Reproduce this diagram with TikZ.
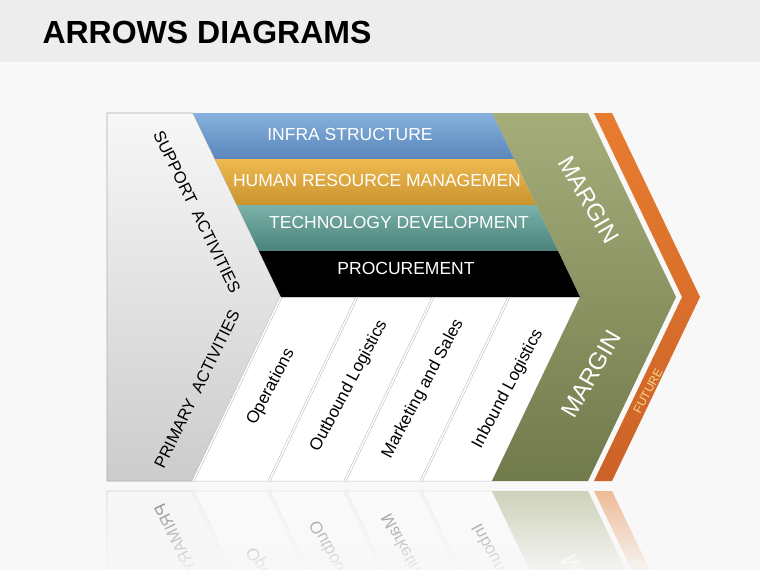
\documentclass[tikz,border=0pt]{standalone}
\usepackage{fontspec}
\setmainfont{Liberation Sans}
\usepackage{tikz}
\usetikzlibrary{fadings}
\definecolor{headgray}{HTML}{EDEDED}
\definecolor{bggray}{HTML}{F8F8F8}
\definecolor{infratop}{HTML}{86B1DC}
\definecolor{infrabot}{HTML}{5A86BB}
\definecolor{hrtop}{HTML}{F0BA52}
\definecolor{hrbot}{HTML}{C8922E}
\definecolor{techtop}{HTML}{7AB2A9}
\definecolor{techbot}{HTML}{4A817C}
\definecolor{olivetop}{HTML}{A6AD7B}
\definecolor{olivebot}{HTML}{717A4B}
\definecolor{orangetop}{HTML}{E87D30}
\definecolor{orangebot}{HTML}{CC6227}
\definecolor{futuretext}{HTML}{F7D690}

\tikzset{
  bandtext/.style={text=white, font=\fontsize{17.5}{20}\selectfont},
  sidetext/.style={text=black, font=\fontsize{16.5}{20}\selectfont},
  coltext/.style={text=black, font=\fontsize{17}{20}\selectfont, rotate=62},
  margintext/.style={text=white, font=\fontsize{24}{28}\selectfont},
  sepline/.style={draw=gray!55, double=white, double distance=1.6pt, line width=0.5pt},
}

% lower half (primary activities), drawn once and once more as its reflection
\newcommand{\primarypart}{%
  % Support / primary panel
  \shade[top color=gray!6, bottom color=gray!40, draw=gray!65, line width=0.8pt]
    (107,113) -- (193,113) -- (281,297) -- (193,481) -- (107,481) -- cycle;
  % Primary columns
  \fill[white, draw=gray!45, line width=0.5pt] (281,297) -- (580,297) -- (492,481) -- (193,481) -- cycle;
  \foreach \x in {281,357,433,509} \draw[sepline] (\x,297) -- ({\x-88},481);
  % Margin chevron
  \shade[top color=olivetop, bottom color=olivebot]
    (492,113) -- (588,113) -- (676,297) -- (588,481) -- (492,481) -- (580,297) -- cycle;
  % Future chevron
  \shade[top color=orangetop, bottom color=orangebot]
    (594,113) -- (612,113) -- (700,297) -- (612,481) -- (594,481) -- (682,297) -- cycle;
  \node[sidetext, rotate=64] (primary) at (197,389) {PRIMARY~~ACTIVITIES};
  \node[coltext] (oper) at (271,387) {Operations};
  \node[coltext] (outb) at (349,386) {Outbound Logistics};
  \node[coltext] (mark) at (423,389) {Marketing and Sales};
  \node[coltext] (inb) at (508,389) {Inbound Logistics};
  \node[margintext, rotate=60] (margbot) at (591,374) {MARGIN};
  \node[text=futuretext, font=\fontsize{12}{14}\selectfont, rotate=62] (future) at (648,391) {FUTURE};
}

\begin{document}
\begin{tikzpicture}[x=1pt, y=-1pt]
\useasboundingbox (0,0) rectangle (760,570);
% Background and title
\fill[bggray] (0,0) rectangle (760,570);
\fill[headgray] (0,0) rectangle (760,62);
\node[anchor=base west, font=\fontsize{32}{36}\selectfont\bfseries] (title) at (39,43) {ARROWS DIAGRAMS};

\primarypart

% Support bands
\shade[top color=infratop, bottom color=infrabot] (193,113) -- (492,113) -- (514,159) -- (215,159) -- cycle;
\shade[top color=hrtop, bottom color=hrbot] (215,159) -- (514,159) -- (536,205) -- (237,205) -- cycle;
\shade[top color=techtop, bottom color=techbot] (237,205) -- (536,205) -- (558,251) -- (259,251) -- cycle;
\fill[black] (259,251) -- (558,251) -- (580,297) -- (281,297) -- cycle;
\node[bandtext] (infra) at (350,134) {INFRA STRUCTURE};
\node[bandtext] (hrm) at (377,180) {HUMAN RESOURCE MANAGEMEN};
\node[bandtext] (tech) at (399,222) {TECHNOLOGY DEVELOPMENT};
\node[bandtext] (proc) at (406,268) {PROCUREMENT};
\node[sidetext, rotate=-64] (support) at (197,212) {SUPPORT~~ACTIVITIES};
\node[margintext, rotate=-60] (margtop) at (589,200) {MARGIN};

% Reflection
\begin{scope}
  \clip (100,489) rectangle (710,570);
  \begin{scope}[transparency group, opacity=0.5]
    \begin{scope}[shift={(0,972)}, yscale=-1, every node/.append style={transform shape}]
      \primarypart
    \end{scope}
  \end{scope}
  \fill[bggray, path fading=north] (100,489) rectangle (710,575);
\end{scope}
\end{tikzpicture}
\end{document}
